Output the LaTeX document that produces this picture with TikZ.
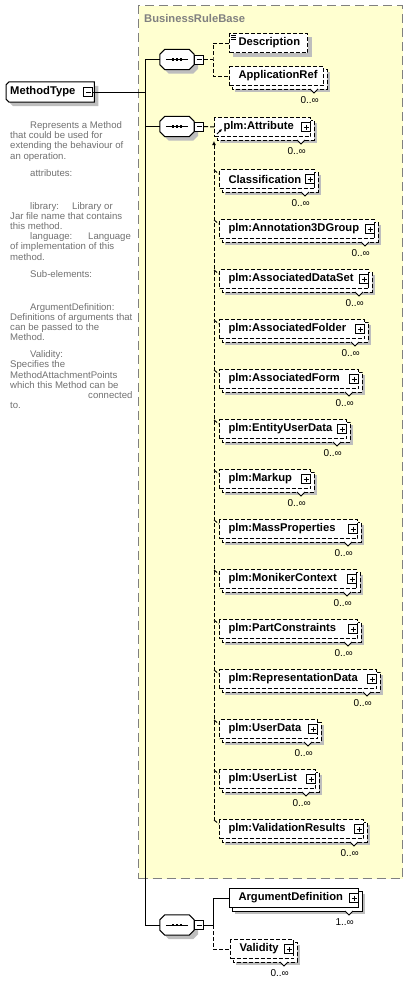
\documentclass[tikz,border=0pt]{standalone}
\usepackage{fontspec}
\setmainfont{Liberation Sans}
\usetikzlibrary{arrows.meta}
\pgfdeclarelayer{bg}
\pgfsetlayers{bg,main}
\definecolor{cPanel}{RGB}{255,255,208}
\definecolor{cFrame}{RGB}{128,128,128}
\definecolor{cShade}{RGB}{190,190,190}
\definecolor{cNote}{RGB}{112,112,112}
\tikzset{
	namefont/.style={font=\fontsize{11.2}{13}\selectfont\bfseries},
	ebox/.style={draw=black, line width=1pt, fill=white, namefont, anchor=north west,
		minimum height=19pt, inner xsep=9pt, inner ysep=0pt, align=left},
	optbox/.style={ebox, dash pattern=on 4pt off 2pt},
	typebox/.style={namefont, anchor=west, text width=80pt, inner xsep=4pt, inner ysep=0pt,
		minimum height=20pt, align=left},
	seqbox/.style={minimum width=34pt, minimum height=20pt, inner sep=0pt},
	shade/.style={fill=cShade},
	plusbox/.style={draw=black, line width=1pt, fill=white, minimum size=9pt, inner sep=0pt,
		path picture={
			\draw[line width=1pt] ([xshift=2pt]path picture bounding box.west)
				-- ([xshift=-2pt]path picture bounding box.east)
				([yshift=-2pt]path picture bounding box.north)
				-- ([yshift=2pt]path picture bounding box.south);}},
	minusbox/.style={draw=black, line width=1pt, fill=white, minimum size=9pt, inner sep=0pt,
		path picture={
			\draw[line width=1pt] ([xshift=2pt]path picture bounding box.west)
				-- ([xshift=-2pt]path picture bounding box.east);}},
	notch/.style={draw=black, line width=1pt, fill=white},
	mult/.style={font=\fontsize{10}{12}\selectfont, anchor=east, inner sep=0pt},
	note/.style={font=\fontsize{9.6}{11}\selectfont, text=cNote, anchor=west, inner sep=0pt,
		text height=7pt, text depth=2pt},
	sline/.style={draw=black, line width=1pt},
	dline/.style={draw=black, line width=1pt, dash pattern=on 4pt off 2pt},
	panel/.style={draw=cFrame, line width=1.2pt, dash pattern=on 9pt off 5pt, fill=cPanel,
		anchor=north west, inner sep=0pt},
}
% shadow and back copy of a repeated element, behind it
\newcommand\stackbg[2]{%
	\begin{pgfonlayer}{bg}
		\fill[shade] ([shift={(6,6)}]#1.north west) rectangle ([shift={(6,6)}]#1.south east);
		\draw[#2, fill=white] ([shift={(3,3)}]#1.north west) rectangle ([shift={(3,3)}]#1.south east);
	\end{pgfonlayer}}
% octagon of a sequence node, shifted by #2
\newcommand\octpath[2]{([shift={(#2+5,#2)}]#1.north west) -- ([shift={(#2-5,#2)}]#1.north east)
	-- ([shift={(#2,#2+5)}]#1.north east) -- ([shift={(#2,#2-5)}]#1.south east)
	-- ([shift={(#2-5,#2)}]#1.south east) -- ([shift={(#2+5,#2)}]#1.south west)
	-- ([shift={(#2,#2-5)}]#1.south west) -- ([shift={(#2,#2+5)}]#1.north west) -- cycle}
\begin{document}
\begin{tikzpicture}[x=1pt,y=-1pt]
	\useasboundingbox (0,0) rectangle (407,983);
	% extension panel
	\begin{pgfonlayer}{bg}
		\node[panel, minimum width=264pt, minimum height=873pt] (base) at (138,5) {};
	\end{pgfonlayer}
	\node[namefont, text=cFrame, anchor=west, inner sep=0pt] (baselbl) at (144,18) {BusinessRuleBase};
	% the type
	\node[typebox] (mtype) at (6,92) {MethodType};
	\begin{pgfonlayer}{bg}
		\fill[shade] ([shift={(7,4)}]mtype.north west) -- ([shift={(4,4)}]mtype.north east)
			-- ([shift={(4,4)}]mtype.south east) -- ([shift={(7,4)}]mtype.south west)
			-- ([shift={(4,1)}]mtype.south west) -- ([shift={(4,7)}]mtype.north west) -- cycle;
		\draw[sline, fill=white] ([xshift=3pt]mtype.north west) -- (mtype.north east)
			-- (mtype.south east) -- ([xshift=3pt]mtype.south west)
			-- ([yshift=3pt]mtype.south west) -- ([yshift=-3pt]mtype.north west) -- cycle;
	\end{pgfonlayer}
	\node[minusbox] (mtypem) at ([xshift=-6pt]mtype.east) {};
	% annotation
	\foreach \y/\x/\t [count=\i] in {
		126/30/Represents a Method,
		136.2/10/that could be used for,
		146.4/10/extending the behaviour of,
		156.6/10/an operation.,
		173.6/30/attributes:,
		206.6/30/\makebox[42pt][l]{library:}Library or,
		216.8/10/Jar file name that contains,
		227/10/this method.,
		237.2/30/\makebox[58pt][l]{language:}Language,
		247.4/10/of implementation of this,
		257.6/10/method.,
		274.6/30/Sub-elements:,
		307.6/30/ArgumentDefinition:,
		317.8/10/Definitions of arguments that,
		328/10/can be passed to the,
		338.2/10/Method.,
		355.2/30/Validity:,
		365.4/10/Specifies the,
		375.6/10/MethodAttachmentPoints,
		385.8/10/which this Method can be,
		396/88/connected,
		406.2/10/to.}
		\node[note] (note\i) at (\x,\y) {\t};
	% sequences
	\node[seqbox] (seq1) at (177,59.5) {};
	\node[seqbox] (seq2) at (177,126.5) {};
	\node[seqbox] (seq3) at (177,925) {};
	\foreach \s in {seq1,seq2,seq3}{
		\begin{pgfonlayer}{bg}
			\fill[shade] \octpath{\s}{4};
			\draw[sline, fill=white] \octpath{\s}{0};
		\end{pgfonlayer}
		\draw[sline] ([xshift=6pt]\s.west) -- ([xshift=-6pt]\s.east);
		\foreach \d in {-4,0,4}
			\fill ([xshift=\d pt]\s.center) +(-1.3pt,-1.3pt) rectangle +(1.3pt,1.3pt);
		\node[minusbox] (\s-m) at ([xshift=5pt]\s.east) {};
	}
	\coordinate (trunkTop) at (145,59.5);
	\coordinate (trunkBot) at (145,925);
	\draw[sline] (mtypem.east) -- (mtypem.east -| trunkTop);
	\draw[sline] (seq1.west) -| (trunkBot) -- (seq3.west);
	\draw[sline] (seq2.west) -- (seq2.west -| trunkTop);
	% first sequence
	\node[optbox, text width=60pt] (desc) at (229,33) {\mbox{Description}};
	\begin{pgfonlayer}{bg}
		\fill[shade] ([shift={(4,4)}]desc.north west) rectangle ([shift={(4,4)}]desc.south east);
	\end{pgfonlayer}
	\draw[line width=0.8pt] ([shift={(2,2)}]desc.north west) -- ++(5,0)
		([shift={(2,4)}]desc.north west) -- ++(5,0)
		([shift={(2,6)}]desc.north west) -- ++(5,0);
	\node[optbox, text width=76pt] (appref) at (229,66) {\mbox{ApplicationRef}};
	\stackbg{appref}{dline}
	\draw[notch] ([xshift=-14pt,yshift=-3pt]appref.south east) -- ++(4,4) -- ++(4,-4);
	\node[mult] (appref-m) at ([xshift=-5pt,yshift=-14pt]appref.south east) {0..∞};
	\coordinate (br1) at (213,59.5);
	\draw[dline] (seq1-m.east) -- (br1);
	\draw[dline] (desc.west) -| (br1) |- (appref.west);
	% second sequence
	\node[optbox, text width=78pt] (attr) at (214,117) {\mbox{plm:Attribute}};
	\stackbg{attr}{dline}
	\node[plusbox] (attr-p) at ([xshift=-5pt]attr.east) {};
	\draw[notch] ([xshift=-14pt,yshift=-3pt]attr.south east) -- ++(4,4) -- ++(4,-4);
	\node[mult] (attr-m) at ([xshift=-5pt,yshift=-14pt]attr.south east) {0..∞};
	\draw[line width=1pt, -{Latex[length=3pt,width=3pt]}] ([shift={(3,-3)}]attr.south west) -- ++(5,-5);
	\draw[dline] (seq2-m.east) -- (attr.west);
	\coordinate (subTop) at ([yshift=-4pt]attr.south west);
	\coordinate (subBot) at (214,821);
	\draw[dline, -{Latex[length=4pt,width=4pt]}] (subBot) -- (subTop);
	\foreach \n/\y/\r/\t in {
		clas/169/314/Classification,
		anno/219/374/plm:Annotation3DGroup,
		dset/269/368/plm:AssociatedDataSet,
		fold/319/364/plm:AssociatedFolder,
		form/369/358/plm:AssociatedForm,
		eud/419/346/plm:EntityUserData,
		mark/469/310/plm:Markup,
		mass/519/357/plm:MassProperties,
		mon/569/356/plm:MonikerContext,
		pcon/619/357/plm:PartConstraints,
		rep/669/376/plm:RepresentationData,
		udat/719/317/plm:UserData,
		ulst/769/315/plm:UserList,
		vres/819/363/plm:ValidationResults}{
		\pgfmathsetmacro\tw{\r-219-18}
		\node[optbox, text width=\tw pt] (\n) at (219,\y) {\mbox{\t}};
		\stackbg{\n}{dline}
		\node[plusbox] (\n-p) at ([xshift=-5pt]\n.east) {};
		\draw[notch] ([xshift=-14pt,yshift=-3pt]\n.south east) -- ++(4,4) -- ++(4,-4);
		\node[mult] (\n-m) at ([xshift=-5pt,yshift=-14pt]\n.south east) {0..∞};
		\draw[dline] (214,\y+1) -- ([yshift=-5pt]\n.north west);
	}
	% third sequence
	\node[ebox, text width=111pt] (argdef) at (229,888) {\mbox{ArgumentDefinition}};
	\stackbg{argdef}{sline}
	\node[plusbox] (argdef-p) at ([xshift=-5pt]argdef.east) {};
	\draw[notch] ([xshift=-14pt,yshift=-3pt]argdef.south east) -- ++(4,4) -- ++(4,-4);
	\node[mult] (argdef-m) at ([xshift=-5pt,yshift=-14pt]argdef.south east) {1..∞};
	\node[optbox, text width=45pt] (valid) at (230,939) {\mbox{Validity}};
	\stackbg{valid}{dline}
	\node[plusbox] (valid-p) at ([xshift=-5pt]valid.east) {};
	\draw[notch] ([xshift=-14pt,yshift=-3pt]valid.south east) -- ++(4,4) -- ++(4,-4);
	\node[mult] (valid-m) at ([xshift=-5pt,yshift=-14pt]valid.south east) {0..∞};
	\coordinate (br3) at (213,925);
	\draw[sline] (seq3-m.east) -- (br3) |- (argdef.west);
	\draw[dline] (br3) |- (valid.west);
\end{tikzpicture}
\end{document}
